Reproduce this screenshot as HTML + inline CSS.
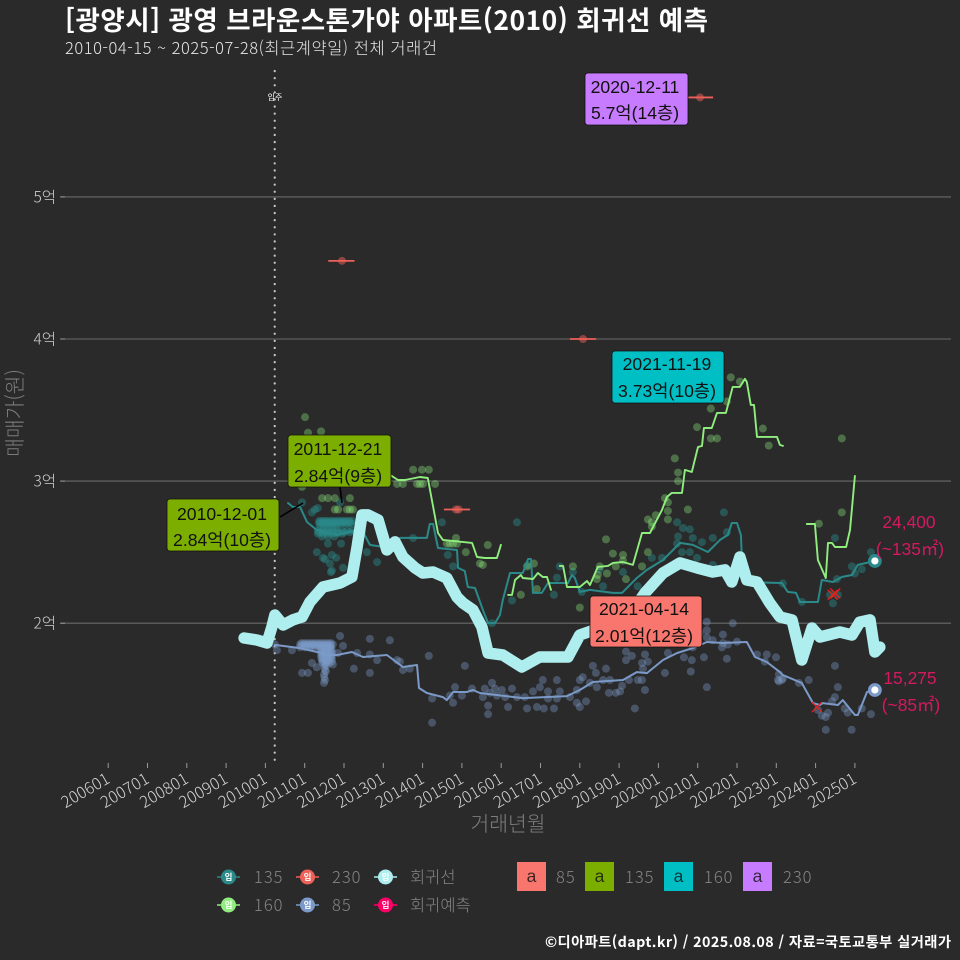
<!DOCTYPE html>
<html lang="ko">
<head>
<meta charset="utf-8">
<title>광영 브라운스톤가야 아파트 회귀선 예측</title>
<style>
html,body{margin:0;padding:0;background:#2a2a2b;}
svg{display:block;}
text{font-family:"Noto Sans CJK KR","NanumGothic",sans-serif;}
.box-text{font-family:"Liberation Sans","Noto Sans CJK KR",sans-serif;font-size:17.6px;fill:#111;text-anchor:middle;}
.end-text{font-family:"Liberation Sans","Noto Sans CJK KR",sans-serif;font-size:17.4px;fill:#d6185f;text-anchor:middle;}
.legend-text{font-size:16.5px;fill:#858585;font-weight:300;}
.legend-num{letter-spacing:1px;}
.key-glyph{font-size:8.5px;font-weight:700;fill:#fff;text-anchor:middle;}
.key-a{font-family:"Liberation Sans",sans-serif;font-size:17.5px;fill:#111;fill-opacity:0.8;text-anchor:middle;}
</style>
</head>
<body>
<svg id="chart" width="960" height="960" viewBox="0 0 960 960" xmlns="http://www.w3.org/2000/svg">
  <rect width="960" height="960" fill="#2a2a2b"/>
  <text x="65" y="30" font-size="26.5" font-weight="700" fill="#ffffff" textLength="643" lengthAdjust="spacing">[광양시] 광영 브라운스톤가야 아파트(2010) 회귀선 예측</text>
  <text x="65" y="54" font-size="16.5" font-weight="300" fill="#e6e6e6" textLength="372" lengthAdjust="spacing">2010-04-15 ~ 2025-07-28(최근계약일) 전체 거래건</text>
  <g id="grid"></g>
  <g id="axes"></g>
  <text transform="translate(22,413) rotate(-90)" text-anchor="middle" font-size="20.4" font-weight="300" fill="#7d7d7d">매매가(원)</text>
  <text x="508" y="831" text-anchor="middle" font-size="20.4" font-weight="300" fill="#7d7d7d">거래년월</text>
  <g id="marks"></g>

  <g>
    <line x1="280" y1="517" x2="303" y2="503" stroke="#000" stroke-width="1.6"/>
    <line x1="340" y1="487" x2="342" y2="503" stroke="#000" stroke-width="1.6"/>

    <g>
      <rect x="585" y="73" width="103" height="52" rx="3" fill="#c77cff" stroke="#111" stroke-width="0.8"/>
      <text class="box-text" x="635" y="93">2020-12-11</text>
      <text class="box-text" x="635" y="119">5.7억(14층)</text>
    </g>
    <g>
      <rect x="612" y="351" width="112" height="52" rx="3" fill="#00bfc4" stroke="#111" stroke-width="0.8"/>
      <text class="box-text" x="667" y="370">2021-11-19</text>
      <text class="box-text" x="667" y="397">3.73억(10층)</text>
    </g>
    <g>
      <rect x="288" y="435" width="103" height="52" rx="3" fill="#7cae00" stroke="#111" stroke-width="0.8"/>
      <text class="box-text" x="338" y="455">2011-12-21</text>
      <text class="box-text" x="338" y="482">2.84억(9층)</text>
    </g>
    <g>
      <rect x="167" y="499" width="112" height="52" rx="3" fill="#7cae00" stroke="#111" stroke-width="0.8"/>
      <text class="box-text" x="222" y="520">2010-12-01</text>
      <text class="box-text" x="222" y="546">2.84억(10층)</text>
    </g>
    <g>
      <rect x="590" y="596" width="112" height="51" rx="3" fill="#f8766d" stroke="#111" stroke-width="0.8"/>
      <text class="box-text" x="644" y="615">2021-04-14</text>
      <text class="box-text" x="644" y="642">2.01억(12층)</text>
    </g>
    <text x="275" y="100" text-anchor="middle" font-size="8" fill="#ffffff">입주</text>
    <text class="end-text" x="909" y="528">24,400</text>
    <text class="end-text" x="910" y="555">(~135㎡)</text>
    <text class="end-text" x="910" y="684">15,275</text>
    <text class="end-text" x="911" y="711">(~85㎡)</text>
  </g>

  <g>
    <g>
      <line x1="217" x2="240" y1="877" y2="877" stroke="#2a8a8a" stroke-width="1.5"/><circle cx="228.5" cy="877" r="7.5" fill="#2a8a8a"/>
      <text class="key-glyph" x="228.5" y="880">입</text>
      <text class="legend-text legend-num" x="254" y="883">135</text>
    </g>
    <g>
      <line x1="217" x2="240" y1="905" y2="905" stroke="#90ee7e" stroke-width="1.5"/><circle cx="228.5" cy="905" r="7.5" fill="#90ee7e"/>
      <text class="key-glyph" x="228.5" y="908">입</text>
      <text class="legend-text legend-num" x="254" y="911">160</text>
    </g>
    <g>
      <line x1="296" x2="319" y1="877" y2="877" stroke="#ee6058" stroke-width="1.5"/><circle cx="307.5" cy="877" r="7.5" fill="#ee6058"/>
      <text class="key-glyph" x="307.5" y="880">입</text>
      <text class="legend-text legend-num" x="332" y="883">230</text>
    </g>
    <g>
      <line x1="296" x2="319" y1="905" y2="905" stroke="#7b9ac8" stroke-width="1.5"/><circle cx="307.5" cy="905" r="7.5" fill="#7b9ac8"/>
      <text class="key-glyph" x="307.5" y="908">입</text>
      <text class="legend-text legend-num" x="332" y="911">85</text>
    </g>
    <g>
      <line x1="374" x2="397" y1="877" y2="877" stroke="#aeeeee" stroke-width="1.5"/><circle cx="385.5" cy="877" r="7.5" fill="#aeeeee"/>
      <text class="key-glyph" x="385.5" y="880">입</text>
      <text class="legend-text" x="410" y="883">회귀선</text>
    </g>
    <g>
      <line x1="374" x2="397" y1="905" y2="905" stroke="#ff0066" stroke-width="1.5"/><circle cx="385.5" cy="905" r="7.5" fill="#ff0066"/>
      <text class="key-glyph" x="385.5" y="908">입</text>
      <text class="legend-text" x="410" y="911">회귀예측</text>
    </g>
  </g>
  <g>
    <g>
      <rect x="517" y="862" width="29" height="29" fill="#f8766d"/>
      <text class="key-a" x="531.5" y="882">a</text>
      <text class="legend-text legend-num" x="556" y="883">85</text>
    </g>
    <g>
      <rect x="585" y="862" width="29" height="29" fill="#7cae00"/>
      <text class="key-a" x="599.5" y="882">a</text>
      <text class="legend-text legend-num" x="625" y="883">135</text>
    </g>
    <g>
      <rect x="664" y="862" width="29" height="29" fill="#00bfc4"/>
      <text class="key-a" x="678.5" y="882">a</text>
      <text class="legend-text legend-num" x="704" y="883">160</text>
    </g>
    <g>
      <rect x="743" y="862" width="29" height="29" fill="#c77cff"/>
      <text class="key-a" x="757.5" y="882">a</text>
      <text class="legend-text legend-num" x="783" y="883">230</text>
    </g>
  </g>
  <text x="951" y="947" text-anchor="end" font-size="14.3" font-weight="700" fill="#ffffff" textLength="406" lengthAdjust="spacing">©디아파트(dapt.kr) / 2025.08.08 / 자료=국토교통부 실거래가</text>
</svg>

<script>
// Tick data
const xTickLabels = ['200601','200701','200801','200901','201001','201101','201201','201301','201401','201501','201601','201701','201801','201901','202001','202101','202201','202301','202401','202501'];
const yTickValues = [2,3,4,5];
const yTickLabels = ['2억','3억','4억','5억'];
const moveInMonth = 51; // months since 2006-01

// All series: [months since 2006-01, price in 억]
const regressionLine = [[41.5,1.896],[45.4,1.882],[48.5,1.861],[50.0,1.973],[50.9,2.058],[53.4,1.987],[56.4,2.023],[59.2,2.044],[61.6,2.149],[65.6,2.255],[70.8,2.283],[74.4,2.325],[76.0,2.536],[77.5,2.762],[79.3,2.762],[82.4,2.727],[85.1,2.515],[87.6,2.572],[90.0,2.466],[93.7,2.389],[96.1,2.353],[99.2,2.360],[103.4,2.318],[106.5,2.184],[108.3,2.142],[111.4,2.093],[114.1,1.973],[116.0,1.790],[120.5,1.776],[126.3,1.692],[131.8,1.762],[135.5,1.762],[140.4,1.762],[144.0,1.917],[150.1,1.966],[156.3,2.058],[162.4,2.163],[163.9,2.213],[169.4,2.353],[174.6,2.424],[179.8,2.389],[184.6,2.360],[188.3,2.375],[190.4,2.290],[192.9,2.466],[195.0,2.304],[198.1,2.290],[202.0,2.142],[205.1,2.044],[208.8,2.023],[211.8,1.741],[214.9,1.966],[217.3,1.903],[223.4,1.938],[227.1,1.917],[229.5,2.008],[232.6,2.023],[234.1,1.797],[235.6,1.832]];

const line135 = [[54.9,2.846],[56.4,2.818],[58.6,2.818],[60.7,2.712],[63.7,2.656],[69.9,2.621],[76.0,2.656],[77.8,2.642],[79.9,2.551],[86.0,2.529],[89.1,2.600],[97.3,2.600],[98.2,2.698],[99.2,2.698],[100.7,2.529],[106.5,2.515],[106.8,2.389],[108.9,2.367],[109.8,2.255],[112.0,2.248],[114.4,2.093],[116.0,2.001],[118.1,2.001],[119.6,2.058],[120.5,2.163],[122.7,2.353],[126.6,2.353],[128.2,2.452],[129.1,2.452],[129.7,2.213],[132.4,2.213],[134.3,2.283],[140.4,2.283],[141.6,2.339],[142.5,2.318],[144.0,2.220],[147.1,2.234],[154.1,2.213],[156.9,2.213],[161.4,2.318],[164.5,2.375],[169.4,2.445],[174.6,2.565],[178.5,2.551],[183.1,2.501],[186.8,2.586],[189.2,2.621],[190.4,2.705],[192.0,2.705],[193.2,2.621],[193.8,2.290],[205.7,2.283],[207.5,2.220],[210.0,2.213],[211.2,2.149],[216.7,2.149],[217.9,2.304],[221.3,2.290],[224.0,2.325],[227.1,2.339],[228.9,2.410],[234.1,2.438]];

const line160a = [[84.5,3.064],[86.6,3.036],[88.5,3.008],[90.6,3.008],[95.2,3.029],[97.6,3.022],[100.7,2.635],[102.2,2.586],[111.1,2.565],[112.6,2.466],[115.0,2.459],[118.7,2.459],[119.9,2.551]];
const line160b = [[122.1,2.199],[123.3,2.199],[124.2,2.304],[126.0,2.339],[126.6,2.318],[129.7,2.311],[131.2,2.353],[132.7,2.325],[134.0,2.325],[135.2,2.234]];
const line160c = [[137.9,2.403],[138.9,2.403],[140.1,2.255],[144.0,2.255],[146.2,2.297],[147.1,2.269],[149.5,2.396],[152.6,2.403],[154.1,2.424],[157.2,2.431],[160.2,2.410],[163.0,2.635],[165.4,2.635],[169.1,2.797],[170.6,2.888],[172.1,2.917],[175.2,2.917],[176.1,3.079],[178.2,3.064],[180.1,3.240],[181.3,3.248],[181.9,3.374],[184.3,3.374],[185.9,3.480],[188.6,3.480],[190.7,3.663],[192.9,3.663],[194.4,3.719],[195.0,3.698],[196.2,3.536],[197.2,3.536],[198.1,3.311],[204.2,3.311],[205.1,3.255],[206.0,3.248]];
const line160d = [[213.3,2.698],[215.8,2.698],[216.7,2.445],[219.1,2.318],[219.8,2.565],[221.0,2.565],[221.9,2.536],[225.3,2.536],[226.5,2.656],[228.0,3.036]];

const line85 = [[50.9,1.847],[58.6,1.825],[67.7,1.776],[69.9,1.776],[74.4,1.797],[77.8,1.762],[85.1,1.776],[90.0,1.692],[94.3,1.706],[94.9,1.544],[97.3,1.509],[102.2,1.480],[103.4,1.459],[105.3,1.516],[109.5,1.516],[111.4,1.530],[113.5,1.509],[118.7,1.495],[126.6,1.473],[140.1,1.487],[144.0,1.530],[148.0,1.586],[157.2,1.600],[161.4,1.656],[164.5,1.649],[169.4,1.741],[173.7,1.790],[178.5,1.825],[182.8,1.868],[187.7,1.861],[195.0,1.868],[197.5,1.762],[201.1,1.727],[205.1,1.656],[206.0,1.635],[211.8,1.579],[215.2,1.438],[217.3,1.424],[218.2,1.438],[222.8,1.424],[224.3,1.459],[228.0,1.354],[228.9,1.354],[231.7,1.516],[234.1,1.530]];

const deals135 = [[59.2,2.85],[63.1,2.80],[64.0,2.81],[62.2,2.78],[70.8,2.85],[64.4,2.71],[65.3,2.71],[66.2,2.71],[67.1,2.71],[68.0,2.71],[69.0,2.71],[69.9,2.71],[70.8,2.71],[71.7,2.71],[72.6,2.71],[73.8,2.71],[64.7,2.68],[65.9,2.68],[67.1,2.68],[68.3,2.68],[69.6,2.68],[64.4,2.64],[65.3,2.64],[66.5,2.64],[67.7,2.64],[69.0,2.64],[70.2,2.64],[72.0,2.64],[73.8,2.64],[75.7,2.64],[77.5,2.64],[65.3,2.61],[67.1,2.61],[69.0,2.61],[67.1,2.56],[71.1,2.56],[63.7,2.50],[65.6,2.46],[68.3,2.48],[69.6,2.46],[66.2,2.45],[67.7,2.42],[68.3,2.37],[71.7,2.39],[68.0,2.36],[79.0,2.50],[82.1,2.43],[93.1,2.60],[101.9,2.71],[103.7,2.48],[105.3,2.40],[124.8,2.71],[123.3,2.16],[117.2,2.00],[128.2,2.41],[136.1,2.20],[137.9,2.40],[137.0,2.32],[141.9,2.36],[144.6,2.22],[151.1,2.26],[161.7,2.26],[166.0,2.46],[169.1,2.46],[173.7,2.71],[174.0,2.61],[175.5,2.67],[177.6,2.66],[178.5,2.60],[181.3,2.57],[184.6,2.60],[188.0,2.78],[188.9,2.64],[175.2,2.50],[177.6,2.50],[179.8,2.46],[184.6,2.41],[173.7,2.56],[157.2,2.36],[150.1,2.38],[206.0,2.28],[211.8,2.15],[221.3,2.14],[220.4,2.20],[222.8,2.20],[221.9,2.60],[222.5,2.31],[227.1,2.40],[228.0,2.35],[230.1,2.38],[232.9,2.50]];
const dealsDense135 = [[64.5,2.72],[65.5,2.72],[66.5,2.72],[67.5,2.72],[68.5,2.72],[69.5,2.72],[70.5,2.72],[71.5,2.72],[72.5,2.72],[73.5,2.72],[74.5,2.72],[64.5,2.70],[65.5,2.70],[66.5,2.70],[67.5,2.70],[68.5,2.70],[69.5,2.70],[70.5,2.70],[71.5,2.70],[72.5,2.70],[73.5,2.70],[74.5,2.70],[64.0,2.65],[65.5,2.65],[67.0,2.65],[68.5,2.65],[70.0,2.65],[71.5,2.65],[73.0,2.65],[74.5,2.65],[64.0,2.63],[65.5,2.63],[67.0,2.63],[68.5,2.63],[70.0,2.63],[71.5,2.63]];

const deals160 = [[60.1,3.45],[61.0,3.34],[65.0,3.35],[59.2,2.96],[65.3,2.88],[67.1,2.88],[69.2,2.88],[73.8,2.88],[69.2,2.80],[73.8,2.80],[70.2,2.80],[72.9,2.80],[74.7,2.80],[93.1,3.08],[95.8,3.08],[97.9,3.08],[88.2,2.98],[90.0,2.98],[94.3,2.98],[95.2,2.98],[96.1,2.98],[99.8,2.98],[106.2,2.60],[103.4,2.56],[104.3,2.56],[105.3,2.56],[106.5,2.56],[109.2,2.50],[113.5,2.42],[115.9,2.55],[114.4,2.41],[126.0,2.20],[127.9,2.40],[130.0,2.42],[130.9,2.24],[141.9,2.40],[144.0,2.11],[152.0,2.59],[154.1,2.49],[157.2,2.48],[157.2,2.44],[150.1,2.40],[152.3,2.35],[149.5,2.34],[149.2,2.31],[155.0,2.40],[158.1,2.31],[163.0,2.40],[164.8,2.50],[164.8,2.73],[166.0,2.71],[167.2,2.76],[166.0,2.68],[170.0,2.88],[170.9,2.85],[170.9,2.79],[170.9,2.73],[177.0,2.80],[173.0,3.16],[174.0,3.06],[174.0,3.00],[179.8,3.38],[184.0,3.51],[184.0,3.30],[185.9,3.30],[188.9,3.56],[190.1,3.73],[192.9,3.70],[199.9,3.37],[201.7,3.25],[217.0,2.70],[224.0,3.30],[224.0,2.78]];

const deals85 = [[58.6,1.85],[59.5,1.85],[60.4,1.85],[61.3,1.85],[62.2,1.85],[63.1,1.85],[64.0,1.85],[65.0,1.85],[65.9,1.85],[66.8,1.85],[67.7,1.85],[68.6,1.85],[58.6,1.83],[60.1,1.83],[61.6,1.83],[63.1,1.83],[64.7,1.83],[66.2,1.83],[67.7,1.83],[65.3,1.81],[66.8,1.81],[68.3,1.81],[65.3,1.79],[66.8,1.79],[68.3,1.79],[65.3,1.77],[66.8,1.77],[68.3,1.77],[65.3,1.75],[66.8,1.75],[68.3,1.75],[65.3,1.73],[66.8,1.73],[68.3,1.73],[66.2,1.71],[66.2,1.67],[65.9,1.64],[66.2,1.60],[65.9,1.58],[50.9,1.85],[51.5,1.81],[56.1,1.81],[70.8,1.91],[79.9,1.89],[86.0,1.88],[71.7,1.84],[70.2,1.79],[68.6,1.71],[59.2,1.65],[61.0,1.65],[62.2,1.72],[63.7,1.69],[75.0,1.68],[79.9,1.65],[76.0,1.79],[79.9,1.78],[82.1,1.74],[88.2,1.74],[89.1,1.73],[92.1,1.68],[90.0,1.67],[97.9,1.77],[108.9,1.70],[105.9,1.55],[111.1,1.54],[98.9,1.47],[104.3,1.49],[105.3,1.44],[108.0,1.49],[98.9,1.30],[117.2,1.58],[115.0,1.54],[118.1,1.54],[120.2,1.53],[123.3,1.54],[116.6,1.51],[114.4,1.48],[118.7,1.49],[121.2,1.48],[124.8,1.48],[127.2,1.48],[116.0,1.42],[116.0,1.36],[122.1,1.41],[127.9,1.40],[130.9,1.41],[133.0,1.40],[136.1,1.40],[129.7,1.52],[131.8,1.55],[132.7,1.60],[134.3,1.52],[137.0,1.60],[137.9,1.52],[134.3,1.47],[137.0,1.47],[141.0,1.48],[143.1,1.53],[144.0,1.60],[144.9,1.62],[148.0,1.70],[148.9,1.65],[152.0,1.68],[147.1,1.58],[149.2,1.55],[151.1,1.60],[153.2,1.60],[152.9,1.51],[155.0,1.51],[156.3,1.52],[156.9,1.56],[159.0,1.60],[143.1,1.44],[144.0,1.41],[145.9,1.45],[160.8,1.40],[161.7,1.60],[163.0,1.60],[163.9,1.53],[158.1,1.80],[158.1,1.74],[159.9,1.77],[163.0,1.72],[164.8,1.73],[163.9,1.78],[163.3,1.68],[170.0,1.65],[170.9,1.79],[175.8,1.76],[178.2,1.74],[177.9,1.66],[181.9,1.76],[182.8,1.55],[178.5,1.83],[182.8,2.01],[182.8,1.95],[182.8,1.90],[180.6,1.93],[184.6,1.88],[187.7,1.92],[187.7,1.86],[187.4,1.83],[189.2,1.85],[190.7,2.00],[192.0,1.87],[188.9,1.75],[198.1,1.78],[201.1,1.78],[200.5,1.73],[203.9,1.76],[204.5,1.60],[205.7,1.60],[204.8,1.64],[206.0,1.61],[204.8,1.59],[213.9,1.60],[210.9,1.58],[221.9,1.70],[222.8,1.55],[221.9,1.48],[221.0,1.45],[219.8,1.37],[216.7,1.39],[217.9,1.35],[219.1,1.34],[219.1,1.25],[224.9,1.40],[225.8,1.37],[227.0,1.25],[230.1,1.40],[232.9,1.36]];
const dealsDense85 = [[59,1.86],[60,1.86],[61,1.86],[62,1.86],[63,1.86],[64,1.86],[65,1.86],[66,1.86],[67,1.86],[68,1.86],[59,1.84],[60,1.84],[61,1.84],[62,1.84],[63,1.84],[64,1.84],[65,1.84],[66,1.84],[67,1.84],[68,1.84],[65,1.82],[66,1.82],[67,1.82],[68,1.82],[65,1.80],[66,1.80],[67,1.80],[68,1.80],[65,1.78],[66,1.78],[67,1.78],[68,1.78],[65,1.76],[66,1.76],[67,1.76],[68,1.76],[65.5,1.74],[66.5,1.74],[67.5,1.74],[65.5,1.72],[66.5,1.72],[67.5,1.72],[66.6,1.70],[66.0,1.69],[66.5,1.66],[66.0,1.62]];

const deals230 = [[180.7,5.70],[71.4,4.55],[145.0,4.00],[106.2,2.80],[107.0,2.80]];
const whisker230 = [[180.7,5.70],[71.2,4.55],[145.0,4.00],[106.5,2.80]];
const crossMarks = [[221.2,2.20],[222.0,2.21],[216.4,1.41]];

// Axis functions
function xScale(months){ return 108.2 + months * 3.275; }
function yScale(price){ return 623.2 - (price - 2) * 142.1; }
function tickToMonths(label){ return (Number(label.slice(0,4)) - 2006) * 12 + (Number(label.slice(4)) - 1); }

const NS = 'http://www.w3.org/2000/svg';
const grid = document.getElementById('grid');
const axes = document.getElementById('axes');
const marks = document.getElementById('marks');
function mk(tag, parent, attrs){
  const el = document.createElementNS(NS, tag);
  for (const k in attrs) el.setAttribute(k, attrs[k]);
  parent.appendChild(el);
  return el;
}

// Y grid & ticks
yTickValues.forEach(function(v, i){
  const y = yScale(v);
  const g = mk('line', grid, {x1:60, x2:951, y1:y, y2:y, stroke:'#6a6a6a', 'stroke-width':1.1});
  
  
  const t = mk('line', axes, {x1:60.5, x2:65, y1:y, y2:y, stroke:'#9a9a9a', 'stroke-width':1});
  
  
  const lab = mk('text', axes, {x:56, y:y+5.5, 'text-anchor':'end', 'font-size':15.5, 'font-weight':300, fill:'#cfcfcf'});
  
  
  lab.textContent = yTickLabels[i];
});

// X ticks
xTickLabels.forEach(function(label){
  const x = xScale(tickToMonths(label));
  const t = mk('line', axes, {x1:x, x2:x, y1:763, y2:768, stroke:'#9a9a9a', 'stroke-width':1});
  
  
  const lab = mk('text', axes, {transform:'translate('+(x+3)+',782) rotate(-30)', 'text-anchor':'end', 'font-size':16, 'letter-spacing':0.25, 'font-weight':300, fill:'#d4d4d4'});
  
  
  lab.textContent = label;
});

// Move-in vertical line
const moveIn = mk('line', marks, {x1:xScale(moveInMonth)-0.5, x2:xScale(moveInMonth)-0.5, y1:71, y2:762, stroke:'#c8c8c8', 'stroke-width':2.2, 'stroke-dasharray':'0.1 7', 'stroke-linecap':'round'});



// Scatter
function dots(data, color, opacity, name){
  data.forEach(function(d){
    const c = mk('circle', marks, {cx:xScale(d[0]), cy:yScale(d[1]), r:4, fill:color, 'fill-opacity':opacity});
    
    
  });
}
dots(deals135, '#2a8a8a', 0.45, 'deal-point-135');
dots(dealsDense135, '#2a8a8a', 0.45, 'deal-point-135');
dots(deals160, '#90ee7e', 0.36, 'deal-point-160');
dots(deals85, '#7b9ac8', 0.38, 'deal-point-85');
dots(dealsDense85, '#7b9ac8', 0.38, 'deal-point-85');
dots(deals230, '#ee6058', 0.5, 'deal-point-230');

whisker230.forEach(function(d){
  const y = yScale(d[1]);
  const w = mk('line', marks, {x1:xScale(d[0]-4), x2:xScale(d[0]+4), y1:y, y2:y, stroke:'#ee6058', 'stroke-width':1.8});
  
  
});

// Lines
function linePath(data){
  return data.map(function(d, i){ return (i ? 'L' : 'M') + xScale(d[0]).toFixed(1) + ' ' + yScale(d[1]).toFixed(1); }).join(' ');
}
function drawLine(data, color, width, name){
  const p = mk('path', marks, {d:linePath(data), fill:'none', stroke:color, 'stroke-width':width, 'stroke-linejoin':'round', 'stroke-linecap':'round'});
  
  
}
drawLine(line135, '#2a8a8a', 2, 'trend-line-135');
drawLine(line85, '#7b9ac8', 2, 'trend-line-85');
drawLine(line160a, '#90ee7e', 1.9, 'trend-line-160');
drawLine(line160b, '#90ee7e', 1.9, 'trend-line-160');
drawLine(line160c, '#90ee7e', 1.9, 'trend-line-160');
drawLine(line160d, '#90ee7e', 1.9, 'trend-line-160');
drawLine(regressionLine, '#aeeeee', 11.5, 'regression-line');

// Red cross marks
crossMarks.forEach(function(d){
  const x = xScale(d[0]), y = yScale(d[1]), s = 5;
  const p = mk('path', marks, {d:'M'+(x-s)+' '+(y-s)+' L'+(x+s)+' '+(y+s)+' M'+(x-s)+' '+(y+s)+' L'+(x+s)+' '+(y-s), stroke:'#e8201c', 'stroke-width':1.3, fill:'none'});
  
  
});

// End-point markers from the final value of each series
function endMarker(data, color, name){
  const last = data[data.length - 1];
  const ring = mk('circle', marks, {cx:xScale(last[0]), cy:yScale(last[1]), r:6.9, fill:color});
  
  
  const core = mk('circle', marks, {cx:xScale(last[0]), cy:yScale(last[1]), r:3.6, fill:'#ffffff'});
  
  
}
endMarker(line135, '#2a8a8a', 'end-marker-135');
endMarker(line85, '#7b9ac8', 'end-marker-85');
</script>
</body>
</html>
